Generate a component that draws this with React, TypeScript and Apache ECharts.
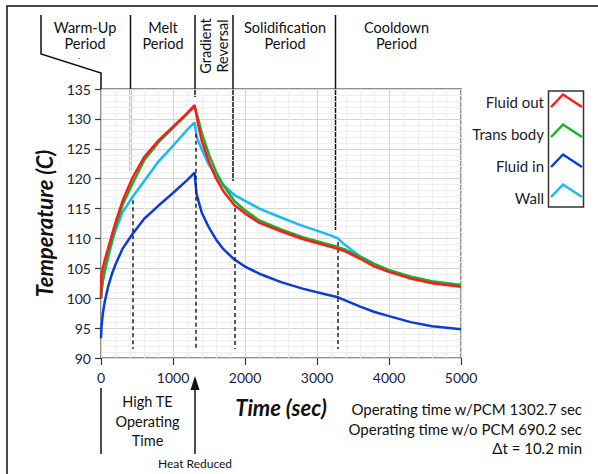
import React, { useEffect, useRef } from "react";
import * as echarts from "echarts";

const times = [0, 5, 25, 50, 100, 150, 200, 300, 435, 600, 800, 1000, 1200, 1300, 1325, 1350, 1400, 1500, 1600, 1700, 1850, 2000, 2200, 2500, 2800, 3100, 3280, 3400, 3600, 3800, 4000, 4300, 4600, 5000];

const fluidOut = [100, 104, 105.0, 106.3, 108.4, 110.5, 112.6, 116.3, 120.1, 123.6, 126.4, 128.7, 131.0, 132.3, 130.7, 129.0, 126.3, 122.8, 120.0, 117.9, 115.6, 114.2, 112.6, 111.2, 109.9, 108.9, 108.3, 107.8, 106.6, 105.3, 104.4, 103.3, 102.5, 101.9];

const transBody = [100, 101.2, 103.0, 104.6, 107.2, 109.6, 111.8, 115.6, 119.1, 123.1, 126.1, 128.5, 130.9, 132.1, 131.0, 130.0, 127.6, 124.0, 121.1, 118.9, 116.3, 114.7, 113.0, 111.5, 110.2, 109.2, 108.6, 108.1, 106.9, 105.7, 104.7, 103.6, 102.8, 102.2];

const fluidIn = [93.3, 95.0, 97.4, 99.3, 102.0, 104.0, 105.6, 108.3, 110.7, 113.3, 115.5, 117.6, 119.8, 121.0, 117.6, 116.4, 114.3, 111.8, 109.8, 108.2, 106.5, 105.3, 104.1, 102.7, 101.6, 100.7, 100.2, 99.6, 98.6, 97.7, 97.0, 96.0, 95.3, 94.8];

const wall = [100, 101.0, 102.8, 104.3, 106.8, 109.2, 111.3, 114.4, 116.9, 119.6, 122.9, 125.5, 128.2, 129.4, 127.3, 126.3, 124.9, 122.3, 120.4, 118.9, 117.3, 116.3, 115.0, 113.5, 112.1, 110.9, 110.1, 108.8, 107.0, 105.7, 104.7, 103.6, 102.8, 102.2];

const seriesNames = ["Fluid out", "Trans body", "Fluid in", "Wall"];
const seriesColors = ["#ff1a1a", "#14b42a", "#0a3cdc", "#1ab8f8"];

const dashX = [435, 1320, 1851, 3282];
const dashTop = [116.4, 127.5, 115.1, 109.4];
const dashBottom = 91.5;

const periodLabels = [["Warm-Up", "Period"], ["Melt", "Period"], ["Gradient", "Reversal"], ["Solidification", "Period"], ["Cooldown", "Period"]];
const teLabel = ["High TE", "Operating", "Time"];
const bottomNotes = ["Operating time w/PCM 1302.7 sec", "Operating time w/o PCM 690.2 sec", "\u0394t = 10.2 min"];

const FONT = "Lato, 'Open Sans', sans-serif";
const INK = "#111111";

export default function App() {
  const ref = useRef<HTMLDivElement>(null);

  useEffect(() => {
    const chart = echarts.init(ref.current!, null, { renderer: "svg" });
    const mk = (arr: number[]) => times.map((t, i) => [t, arr[i]]);

    const txt = (text: string, x: number, y: number, extra: any = {}, elExtra: any = {}) => ({
      type: "text",
      x,
      y,
      ...elExtra,
      style: {
        text,
        fontSize: 14.5,
        fontFamily: FONT,
        fill: INK,
        align: "center",
        verticalAlign: "middle",
        ...extra,
      },
    });
    const ln = (x1: number, y1: number, x2: number, y2: number) => ({
      type: "line",
      shape: { x1, y1, x2, y2 },
      style: { stroke: INK, lineWidth: 1.5 },
    });

    const periodX = [85, 163, 0, 285, 396.5];
    const periodTexts: any[] = [];
    periodLabels.forEach((pair, i) => {
      if (i === 2) {
        periodTexts.push(txt(pair[0], 205.5, 46, {}, { rotation: Math.PI / 2 }));
        periodTexts.push(txt(pair[1], 222.5, 46, {}, { rotation: Math.PI / 2 }));
      } else {
        periodTexts.push(txt(pair[0], periodX[i], 27.5));
        periodTexts.push(txt(pair[1], periodX[i], 43.5));
      }
    });

    const chevrons = seriesColors.map((c, i) => {
      const dy = 30 * i;
      return {
        type: "polyline",
        shape: { points: [[551, 107 + dy], [563, 94.5 + dy], [582, 107 + dy]] },
        style: { stroke: c, lineWidth: 2.5, fill: "none" },
      };
    });

    const option: any = {
      animation: false,
      backgroundColor: "#ffffff",
      grid: {
        left: 101,
        top: 89,
        width: 360,
        height: 269,
        show: true,
        borderColor: "#6e6e6e",
        borderWidth: 1.5,
        backgroundColor: "#ffffff",
      },
      legend: {
        data: seriesNames,
        orient: "vertical",
        right: 15,
        top: 94,
        align: "right",
        padding: 0,
        itemWidth: 34,
        itemHeight: 13,
        itemGap: 17,
        icon: "rect",
        itemStyle: { opacity: 0 },
        textStyle: { fontSize: 15, fontFamily: FONT, color: "#1c1c2c", lineHeight: 13 },
      },
      xAxis: {
        type: "value",
        min: 0,
        max: 5000,
        interval: 1000,
        name: "Time (sec)",
        nameLocation: "middle",
        nameGap: 38,
        nameTextStyle: { fontSize: 22, fontWeight: "bold", fontStyle: "italic", fontFamily: FONT, color: INK },
        axisLine: { show: false },
        axisTick: { show: true, length: 7, lineStyle: { color: "#333", width: 1.2 } },
        axisLabel: { color: "#1c1c3c", fontSize: 14, fontFamily: FONT, margin: 12, formatter: (v: number) => String(v) },
        splitLine: { show: true, lineStyle: { color: "#d4d4d4", width: 1 } },
        minorTick: { show: false, splitNumber: 5 },
        minorSplitLine: { show: true, lineStyle: { color: "#eeeeee", width: 1 } },
      },
      yAxis: {
        type: "value",
        min: 90,
        max: 135,
        interval: 5,
        name: "Temperature (C)",
        nameLocation: "middle",
        nameRotate: 90,
        nameGap: 43,
        nameTextStyle: { fontSize: 22, fontWeight: "bold", fontStyle: "italic", fontFamily: FONT, color: INK },
        axisLine: { show: false },
        axisTick: { show: true, length: 6, lineStyle: { color: "#333", width: 1.2 } },
        axisLabel: { color: "#1c1c3c", fontSize: 14, fontFamily: FONT, margin: 10 },
        splitLine: { show: true, lineStyle: { color: "#d4d4d4", width: 1 } },
        minorTick: { show: false, splitNumber: 5 },
        minorSplitLine: { show: true, lineStyle: { color: "#eeeeee", width: 1 } },
      },
      series: [
        {
          name: seriesNames[0],
          type: "line",
          data: mk(fluidOut),
          symbol: "none",
          z: 6,
          lineStyle: { color: seriesColors[0], width: 2.5 },
          itemStyle: { color: seriesColors[0] },
          markLine: {
            silent: true,
            symbol: ["none", "none"],
            label: { show: false },
            lineStyle: { color: "#222", type: [4, 3], width: 1.5 },
            data: dashX.map((x, i) => [{ coord: [x, dashTop[i]] }, { coord: [x, dashBottom] }]),
          },
        },
        {
          name: seriesNames[1],
          type: "line",
          data: mk(transBody),
          symbol: "none",
          z: 5,
          lineStyle: { color: seriesColors[1], width: 2.5 },
          itemStyle: { color: seriesColors[1] },
        },
        {
          name: seriesNames[2],
          type: "line",
          data: mk(fluidIn),
          symbol: "none",
          z: 4,
          lineStyle: { color: seriesColors[2], width: 2.5 },
          itemStyle: { color: seriesColors[2] },
        },
        {
          name: seriesNames[3],
          type: "line",
          data: mk(wall),
          symbol: "none",
          z: 3,
          lineStyle: { color: seriesColors[3], width: 2.5 },
          itemStyle: { color: seriesColors[3] },
        },
      ],
      graphic: [
        { type: "rect", shape: { x: 7, y: 6, width: 640, height: 520 }, style: { fill: "none", stroke: INK, lineWidth: 1.5 } },
        { type: "polyline", shape: { points: [[41, 15], [41, 54], [101, 73], [101, 89]] }, style: { stroke: INK, lineWidth: 1.5, fill: "none" } },
        ln(130.5, 15, 130.5, 171),
        ln(195, 15, 195, 97),
        ln(233, 15, 233, 181),
        ln(335.5, 15, 335.5, 230),
        ...periodTexts,
        txt("-", 79, 58, { fontSize: 7 }),
        { type: "rect", shape: { x: 548.5, y: 91, width: 35, height: 116 }, style: { fill: "#fff", stroke: "#333", lineWidth: 1.5 } },
        ...chevrons,
        ln(101, 388, 101, 454),
        ln(195, 388, 195, 454),
        { type: "polygon", shape: { points: [[190.5, 390], [195, 376], [199.5, 390]] }, style: { fill: INK } },
        txt(teLabel[0], 147.5, 401),
        txt(teLabel[1], 147.5, 421),
        txt(teLabel[2], 147.5, 440),
        txt("Heat Reduced", 195, 463, { fontSize: 12 }),
        txt(bottomNotes[0], 582, 409, { align: "right", fontSize: 15 }),
        txt(bottomNotes[1], 582, 429, { align: "right", fontSize: 15 }),
        txt(bottomNotes[2], 582, 448, { align: "right", fontSize: 15 }),
      ],
    };

    chart.setOption(option);
    return () => chart.dispose();
  }, []);

  return (
    <div
      ref={ref}
      style={{ position: "fixed", left: 0, top: 0, width: 598, height: 474, background: "#fff" }}
    />
  );
}
